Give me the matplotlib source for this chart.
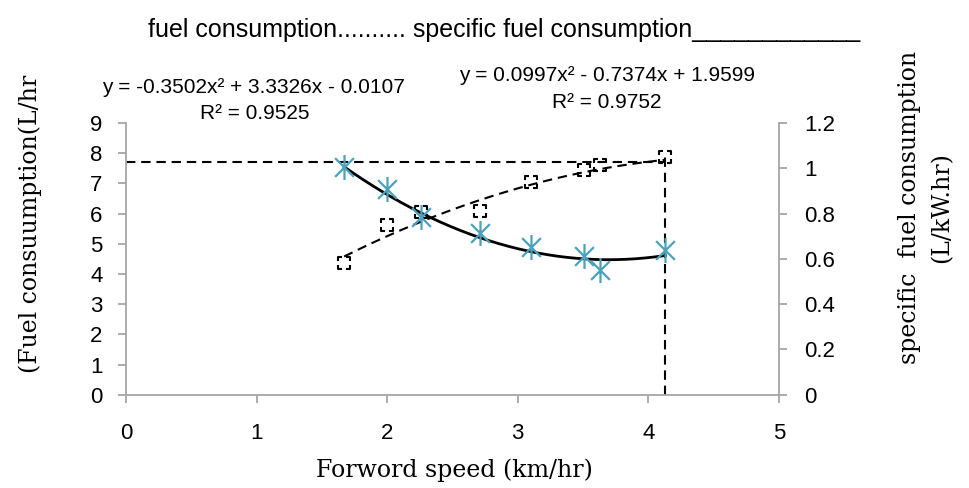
import numpy as np
import matplotlib
matplotlib.use("Agg")
import matplotlib.pyplot as plt
from matplotlib.path import Path

# forward speed (km/hr)
speed = [1.67, 2.0, 2.26, 2.71, 3.1, 3.51, 3.63, 4.13]
# fuel consumption (L/hr), left axis - square markers
fuel = [4.37, 5.63, 6.06, 6.09, 7.05, 7.45, 7.62, 7.88]
# specific fuel consumption (L/kW.hr), right axis - asterisk markers
sfc = [1.007, 0.909, 0.785, 0.715, 0.653, 0.613, 0.552, 0.64]

# trendline coefficients as printed on the chart
fuel_fit = [-0.3502, 3.3326, -0.0107]
sfc_fit = [0.0997, -0.7374, 1.9599]

# reference dashed guide lines
guide_y = 7.7
guide_x = 4.13

sans = ['Liberation Sans', 'DejaVu Sans']
serif = ['DejaVu Serif']
plt.rcParams['font.family'] = sans

fig = plt.figure(figsize=(9.7, 4.88), dpi=100)
ax = fig.add_axes([0.130, 0.191, 0.673, 0.557])
ax2 = ax.twinx()

grey = '#a6a6a6'
blue = '#4aa2bb'
dash = (0, (4.5, 2.8))

# asterisk marker like Excel's
star = Path([(0, -1), (0, 1), (-0.75, -0.75), (0.75, 0.75), (-0.75, 0.75), (0.75, -0.75)],
            [Path.MOVETO, Path.LINETO, Path.MOVETO, Path.LINETO, Path.MOVETO, Path.LINETO])
# square drawn with a dashed outline (corners only)
g = 0.25
dsq = Path([(-1, g), (-1, 1), (-g, 1),
            (g, 1), (1, 1), (1, g),
            (1, -g), (1, -1), (g, -1),
            (-g, -1), (-1, -1), (-1, -g)],
           [Path.MOVETO, Path.LINETO, Path.LINETO] * 4)

xs = np.linspace(min(speed), max(speed), 200)
ax.plot(xs, np.polyval(fuel_fit, xs), color='black', lw=1.5, ls=dash)
ax.plot(speed, fuel, ls='none', marker=dsq, ms=9, mfc='none', mec='black', mew=1.5)
ax.plot([0, guide_x], [guide_y, guide_y], color='black', lw=1.5, ls=dash)
ax.plot([guide_x, guide_x], [0, max(fuel)], color='black', lw=1.5, ls=dash)

ax2.plot(xs, np.polyval(sfc_fit, xs), color='black', lw=2)
ax2.plot(speed, sfc, ls='none', marker=star, ms=18, mfc='none', mec=blue, mew=1.6)

ax.set_xlim(0, 5)
ax.set_ylim(0, 9)
ax2.set_ylim(0, 1.2)
ax.set_xticks(range(0, 6))
ax.set_yticks(range(0, 10))
ax2.set_yticks([0, 0.2, 0.4, 0.6, 0.8, 1.0, 1.2])
ax2.set_yticklabels(['0', '0.2', '0.4', '0.6', '0.8', '1', '1.2'])

for a in (ax, ax2):
    a.spines['top'].set_visible(False)
    for s in a.spines.values():
        s.set_color(grey)
        s.set_linewidth(1.3)
    a.tick_params(colors=grey, labelcolor='black', labelsize=16, length=6, width=1.3)
ax.spines['right'].set_visible(False)
ax2.spines['left'].set_visible(False)
ax2.spines['bottom'].set_visible(False)
ax.tick_params(axis='y', pad=11)
ax2.tick_params(axis='y', pad=12)
ax.tick_params(axis='x', pad=14)

fig.text(0.469, 0.037, 'Forword speed (km/hr)', fontsize=17, family=serif,
         ha='center', va='center')
fig.text(0.031, 0.541, '(Fuel consuumption(L/hr', rotation=90, fontsize=17,
         family=serif, ha='center', va='center')
fig.text(0.954, 0.574, 'specific  fuel consumption\n(L/kW.hr)', rotation=90,
         fontsize=17, family=serif, ha='center', va='center', linespacing=1.5)

fig.text(0.52, 0.939, 'fuel consumption.......... specific fuel consumption____________',
         fontsize=18, ha='center', va='center')
fig.text(0.261, 0.82, 'y = -0.3502x² + 3.3326x - 0.0107', fontsize=15,
         ha='center', va='center')
fig.text(0.263, 0.768, 'R² = 0.9525', fontsize=15, ha='center', va='center')
fig.text(0.626, 0.846, 'y = 0.0997x² - 0.7374x + 1.9599', fontsize=15,
         ha='center', va='center')
fig.text(0.626, 0.789, 'R² = 0.9752', fontsize=15, ha='center', va='center')

plt.savefig('out.png', dpi=100)
